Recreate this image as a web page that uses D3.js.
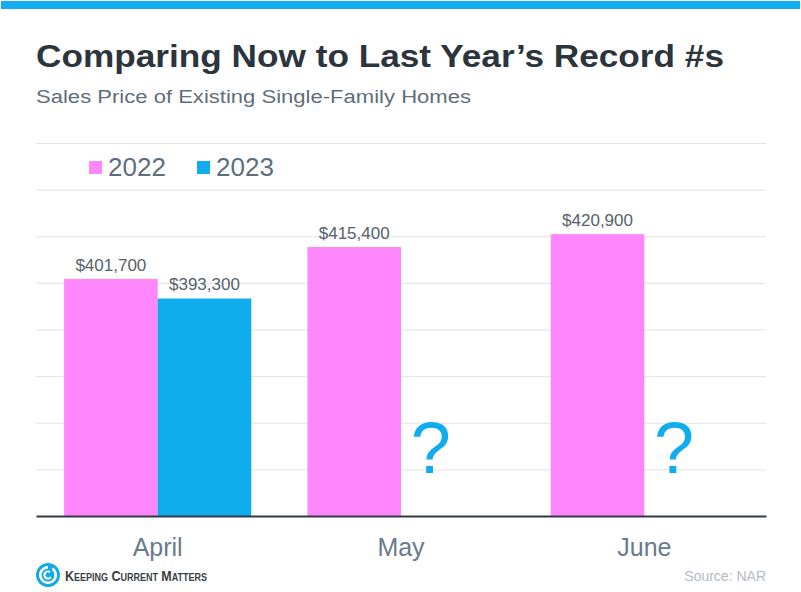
<!DOCTYPE html>
<html>
<head>
<meta charset="utf-8">
<script src="https://d3js.org/d3.v7.min.js"></script>
<style>
  html, body { margin: 0; padding: 0; background: #ffffff; }
  svg { display: block; font-family: "Liberation Sans", Arial, Helvetica, sans-serif; }
</style>
</head>
<body>
<div id="chart"></div>
<script>
// Chart data
const months = ["April", "May", "June"];
const series = ["2022", "2023"];
const values2022 = [401700, 415400, 420900];
const values2023 = [393300, null, null]; // null -> not yet known, drawn as "?"
const gridValues = [300000, 320000, 340000, 360000, 380000, 400000, 420000, 440000, 460000];

const width = 801;
const height = 592;
const margin = { top: 143, right: 35, bottom: 76, left: 36 };

const colors = d3.scaleOrdinal()
    .domain(series)
    .range(["#ff87fd", "#10adee"]);

const rows = months.map((m, i) => ({
    month: m,
    values: [
        { key: "2022", value: values2022[i] },
        { key: "2023", value: values2023[i] }
    ]
}));

const svg = d3.select("#chart")
    .append("svg")
    .attr("width", width)
    .attr("height", height);

// top blue strip
svg.append("rect")
    .attr("x", 1).attr("y", 1)
    .attr("width", width - 2).attr("height", 8)
    .attr("fill", "#12aeef");

// title + subtitle
svg.append("text")
    .attr("x", 36).attr("y", 67)
    .attr("font-size", 31)
    .attr("font-weight", "bold")
    .attr("fill", "#2c353e")
    .attr("textLength", 688)
    .attr("lengthAdjust", "spacingAndGlyphs")
    .text("Comparing Now to Last Year’s Record #s");

svg.append("text")
    .attr("x", 36).attr("y", 103)
    .attr("font-size", 18)
    .attr("fill", "#5f6e7b")
    .attr("textLength", 435)
    .attr("lengthAdjust", "spacingAndGlyphs")
    .text("Sales Price of Existing Single-Family Homes");

// scales
const x0 = d3.scaleBand()
    .domain(months)
    .range([margin.left, width - margin.right])
    .padding(0);

const x1 = d3.scaleBand()
    .domain(series)
    .range([0, x0.bandwidth()])
    .paddingInner(0)
    .paddingOuter(0.3);

const y = d3.scaleLinear()
    .domain([d3.min(gridValues), d3.max(gridValues)])
    .range([height - margin.bottom, margin.top]);

// gridlines
const grid = svg.append("g")
    .attr("transform", `translate(${margin.left}, 0)`)
    .call(d3.axisLeft(y)
        .tickValues(gridValues)
        .tickSize(-(width - margin.left - margin.right))
        .tickFormat(""));
grid.select(".domain").remove();
grid.selectAll(".tick line")
    .attr("stroke", "#e3e3e3")
    .attr("stroke-width", 1);

// legend (sits on the chart area)
const legend = svg.append("g")
    .selectAll("g")
    .data(series)
    .enter()
    .append("g")
    .attr("transform", (d, i) => `translate(${89 + i * 108}, 0)`);

legend.append("rect")
    .attr("x", 0).attr("y", 161)
    .attr("width", 13).attr("height", 13)
    .attr("fill", d => colors(d));

legend.append("text")
    .attr("x", 19).attr("y", 176)
    .attr("font-size", 26)
    .attr("fill", "#5f6e7e")
    .text(d => d);

// bars
const groups = svg.append("g")
    .selectAll("g")
    .data(rows)
    .enter()
    .append("g")
    .attr("transform", d => `translate(${x0(d.month)}, 0)`);

groups.selectAll("rect")
    .data(d => d.values.filter(v => v.value != null))
    .enter()
    .append("rect")
    .attr("x", d => x1(d.key))
    .attr("y", d => y(d.value))
    .attr("width", x1.bandwidth())
    .attr("height", d => y.range()[0] - y(d.value))
    .attr("fill", d => colors(d.key));

// value labels
groups.selectAll(".label")
    .data(d => d.values.filter(v => v.value != null))
    .enter()
    .append("text")
    .attr("class", "label")
    .attr("x", d => x1(d.key) + x1.bandwidth() / 2)
    .attr("y", d => y(d.value) - 8)
    .attr("text-anchor", "middle")
    .attr("font-size", 17)
    .attr("fill", "#56616d")
    .text(d => "$" + d3.format(",")(d.value));

// question marks for missing values
groups.selectAll(".unknown")
    .data(d => d.values.filter(v => v.value == null))
    .enter()
    .append("text")
    .attr("class", "unknown")
    .attr("x", d => x1(d.key) + x1.bandwidth() / 2 - 17)
    .attr("y", 473)
    .attr("text-anchor", "middle")
    .attr("font-size", 72)
    .attr("fill", "#10adee")
    .text("?");

// x axis
const xAxis = svg.append("g")
    .attr("transform", `translate(0, ${height - margin.bottom})`)
    .call(d3.axisBottom(x0).tickSize(0));
xAxis.select(".domain")
    .attr("stroke", "#313a43")
    .attr("stroke-width", 2);
xAxis.selectAll(".tick text")
    .attr("y", 40)
    .attr("dy", 0)
    .attr("font-size", 25)
    .attr("font-family", "'Liberation Sans', Arial, sans-serif")
    .attr("fill", "#6a7a8c");

// footer: logo + source
const logo = svg.append("g").attr("transform", "translate(48, 575)");
logo.append("circle").attr("r", 12).attr("fill", "#14a9e6");
logo.append("path")
    .attr("d", d3.arc()({ innerRadius: 6.5, outerRadius: 9, startAngle: 0.6, endAngle: 2 * Math.PI }))
    .attr("fill", "#ffffff");
logo.append("path")
    .attr("d", d3.arc()({ innerRadius: 2.5, outerRadius: 4.6, startAngle: 2.2, endAngle: 2 * Math.PI + 0.6 }))
    .attr("fill", "#ffffff");

svg.append("text")
    .attr("x", 65).attr("y", 581)
    .attr("font-size", 14)
    .attr("font-weight", "bold")
    .attr("fill", "#3a3f45")
    .style("font-variant", "small-caps")
    .attr("textLength", 142)
    .attr("lengthAdjust", "spacingAndGlyphs")
    .text("Keeping Current Matters");

svg.append("text")
    .attr("x", width - margin.right).attr("y", 581)
    .attr("text-anchor", "end")
    .attr("font-size", 14)
    .attr("fill", "#b3bbc3")
    .text("Source: NAR");
</script>
</body>
</html>
